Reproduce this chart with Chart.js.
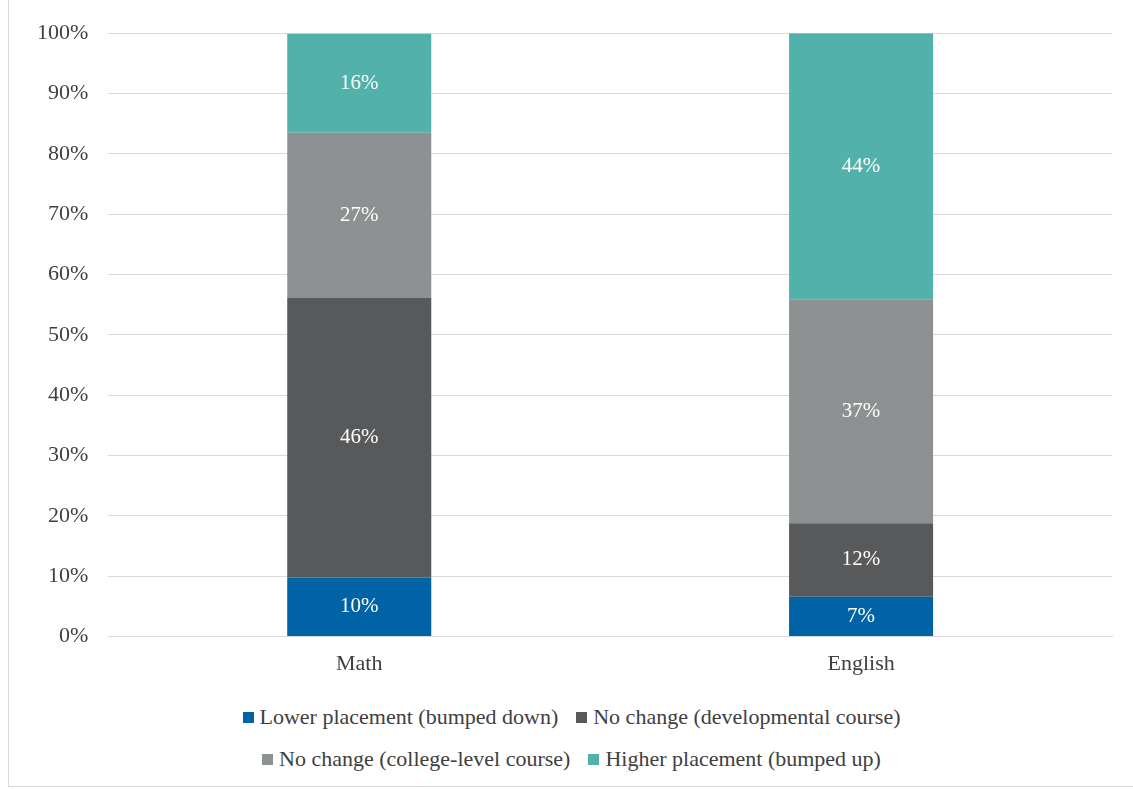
<!DOCTYPE html>
<html>
<head>
<meta charset="utf-8">
<script src="https://cdn.jsdelivr.net/npm/chart.js@4/dist/chart.umd.min.js"></script>
<style>
  body { margin: 0; background: #fff; font-family: 'Liberation Serif', serif; }
  #wrap { position: absolute; left: 8px; top: 0; width: 1125px; height: 786px; border-left: 1px solid #d9d9d9; border-bottom: 1px solid #d9d9d9; }
  #box { position: absolute; left: 0; top: 0; width: 1125px; height: 683px; }
  #legend { position: absolute; left: 0; top: 696px; width: 1125px; font-size: 22px; color: #404040; }
  .row { display: flex; justify-content: center; gap: 18px; height: 42px; }
  .item { display: flex; align-items: center; }
  .sw { width: 11px; height: 11px; margin-right: 6px; }
</style>
</head>
<body>
<div id="wrap">
  <div id="box"><canvas id="c"></canvas></div>
  <div id="legend"></div>
</div>
<script>
// categorie e serie (percentuali)
const categories = ['Math', 'English'];
const seriesNames = ['Lower placement (bumped down)', 'No change (developmental course)', 'No change (college-level course)', 'Higher placement (bumped up)'];
const lowerPlacement = [9.8, 6.6];
const noChangeDev = [46.4, 12.2];
const noChangeCollege = [27.3, 37.1];
const higherPlacement = [16.4, 44.1];
const yTicks = [0, 10, 20, 30, 40, 50, 60, 70, 80, 90, 100];

const colors = ['#0063a5', '#58595b', '#8e9192', '#52b1ab'];
const values = [lowerPlacement, noChangeDev, noChangeCollege, higherPlacement];

// etichette dentro le barre
const barLabels = {
  id: 'barLabels',
  afterDatasetsDraw(chart) {
    const ctx = chart.ctx;
    ctx.save();
    ctx.font = '21px "Liberation Serif"';
    ctx.fillStyle = '#ffffff';
    ctx.textAlign = 'center';
    ctx.textBaseline = 'middle';
    chart.data.datasets.forEach((ds, i) => {
      chart.getDatasetMeta(i).data.forEach((bar, j) => {
        const y = (bar.y + bar.base) / 2;
        ctx.fillText(Math.round(ds.data[j]) + '%', bar.x, y);
      });
    });
    ctx.restore();
  }
};

new Chart(document.getElementById('c'), {
  type: 'bar',
  data: {
    labels: categories,
    datasets: seriesNames.map((n, i) => ({
      label: n,
      data: values[i],
      backgroundColor: colors[i],
      barPercentage: 0.287,
      categoryPercentage: 1
    }))
  },
  options: {
    responsive: true,
    maintainAspectRatio: false,
    animation: false,
    layout: { padding: { top: 22, right: 22, left: 8, bottom: 0 } },
    scales: {
      x: {
        stacked: true,
        grid: { display: false },
        border: { color: '#d9d9d9' },
        ticks: { color: '#404040', font: { family: 'Liberation Serif', size: 22 }, padding: 6 }
      },
      y: {
        stacked: true,
        min: 0, max: 100,
        afterBuildTicks: (axis) => { axis.ticks = yTicks.map(v => ({ value: v })); },
        grid: { color: '#d9d9d9', drawTicks: false },
        border: { display: false },
        ticks: { color: '#404040', font: { family: 'Liberation Serif', size: 22 }, padding: 20, callback: v => v + '%' }
      }
    },
    plugins: { legend: { display: false }, tooltip: { enabled: false } }
  },
  plugins: [barLabels]
});

// legenda HTML su due righe
const legend = document.getElementById('legend');
[[0, 1], [2, 3]].forEach(r => {
  const row = document.createElement('div');
  row.className = 'row';
  r.forEach(i => {
    const it = document.createElement('div');
    it.className = 'item';
    it.innerHTML = '<span class="sw" style="background:' + colors[i] + '"></span>' + seriesNames[i];
    row.appendChild(it);
  });
  legend.appendChild(row);
});
</script>
</body>
</html>
